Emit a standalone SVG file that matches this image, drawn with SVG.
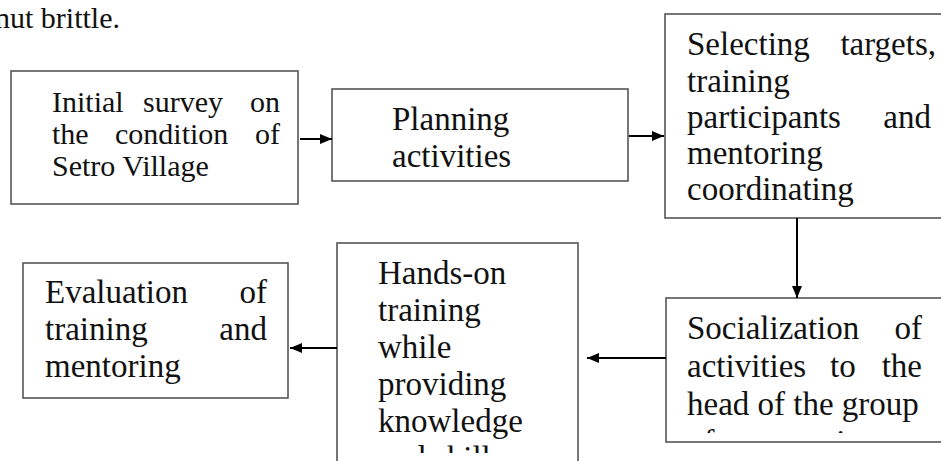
<svg xmlns="http://www.w3.org/2000/svg" width="941" height="461" viewBox="0 0 941 461">
<style>
text{font-family:"Liberation Serif","Times New Roman",serif;fill:#111}
.t{font-size:33px}
.s{font-size:30px}
.e{text-anchor:end}
.box{fill:#fff;stroke:#555;stroke-width:1.6}
.conn{stroke:#000;stroke-width:2;fill:none}
</style>
<defs>
<marker id="ah" viewBox="0 0 12 10" refX="12" refY="5" markerWidth="12" markerHeight="10" markerUnits="userSpaceOnUse" orient="auto">
<path d="M0,0 L12,5 L0,10 Z" fill="#000"/>
</marker>
<clipPath id="c3"><rect x="665" y="14" width="276" height="193"/></clipPath>
<clipPath id="c4"><rect x="666" y="298" width="275" height="135"/></clipPath>
<clipPath id="c5"><rect x="337" y="243" width="241" height="210"/></clipPath>
</defs>
<text class="s" x="-5" y="28">nut brittle.</text>
<g id="n1">
<rect class="box" x="11" y="71" width="287" height="133"/>
<text class="s" x="52" y="112">Initial</text><text class="s" x="143" y="112">survey</text><text class="s e" x="280" y="112">on</text>
<text class="s" x="52" y="144">the</text><text class="s" x="115" y="144">condition</text><text class="s e" x="280" y="144">of</text>
<text class="s" x="52" y="176">Setro Village</text>
</g>
<g id="n2">
<rect class="box" x="332" y="89" width="296" height="92"/>
<text class="t" x="392" y="130">Planning</text>
<text class="t" x="392" y="167">activities</text>
</g>
<g id="n3">
<rect class="box" x="665" y="14" width="290" height="204"/>
<g clip-path="url(#c3)">
<text class="t" x="687" y="55">Selecting</text><text class="t e" x="936" y="55">targets,</text>
<text class="t" x="687" y="92">training</text>
<text class="t" x="687" y="128">participants</text><text class="t e" x="931" y="128">and</text>
<text class="t" x="687" y="164">mentoring</text>
<text class="t" x="687" y="200">coordinating</text>
</g>
</g>
<g id="n4">
<rect class="box" x="666" y="298" width="290" height="144"/>
<g clip-path="url(#c4)">
<text class="t" x="687" y="339">Socialization</text><text class="t e" x="922" y="339">of</text>
<text class="t" x="687" y="377">activities</text><text class="t" x="830" y="377">to</text><text class="t e" x="922" y="377">the</text>
<text class="t" x="687" y="415">head of the group</text>
<text class="t" x="687" y="453">of cooperatives</text>
</g>
</g>
<g id="n5">
<rect class="box" x="337" y="243" width="241" height="240"/>
<g clip-path="url(#c5)">
<text class="t" x="378" y="284">Hands-on</text>
<text class="t" x="378" y="321">training</text>
<text class="t" x="378" y="358">while</text>
<text class="t" x="378" y="395">providing</text>
<text class="t" x="378" y="432">knowledge</text>
<text class="t" x="378" y="469">and skills</text>
</g>
</g>
<g id="n6">
<rect class="box" x="23" y="263" width="265" height="135"/>
<text class="t" x="45" y="303">Evaluation</text><text class="t e" x="267" y="303">of</text>
<text class="t" x="45" y="340">training</text><text class="t e" x="267" y="340">and</text>
<text class="t" x="45" y="377">mentoring</text>
</g>
<g id="connectors">
<line class="conn" x1="300" y1="139" x2="332" y2="139" marker-end="url(#ah)"/>
<line class="conn" x1="629" y1="136" x2="664" y2="136" marker-end="url(#ah)"/>
<line class="conn" x1="797" y1="218" x2="797" y2="298" marker-end="url(#ah)"/>
<line class="conn" x1="666" y1="358" x2="587" y2="358" marker-end="url(#ah)"/>
<line class="conn" x1="337" y1="348" x2="290" y2="348" marker-end="url(#ah)"/>
</g>
</svg>
